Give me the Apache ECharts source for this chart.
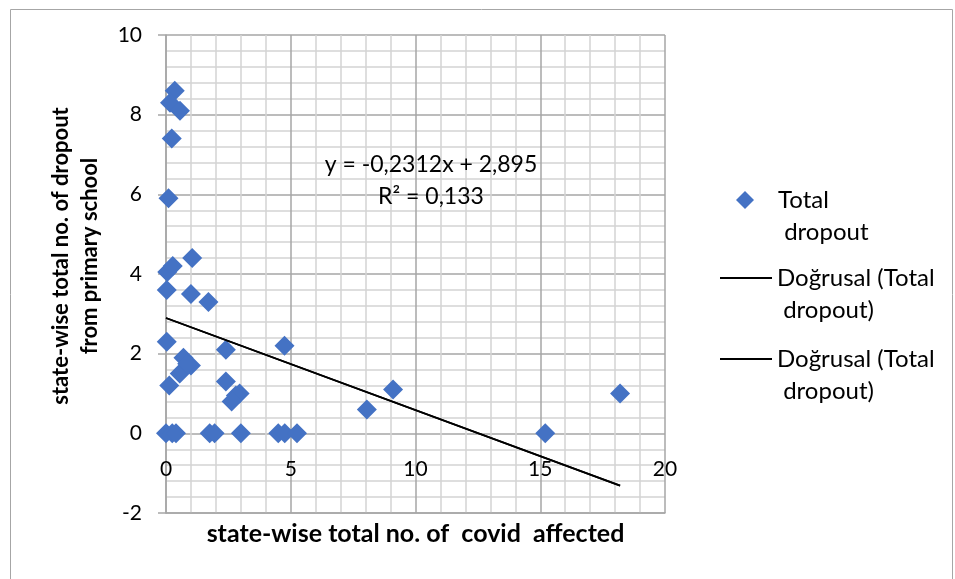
<!DOCTYPE html>
<html>
<head>
<meta charset="utf-8">
<script src="https://cdn.jsdelivr.net/npm/echarts@6/dist/echarts.min.js"></script>
<style>
html,body{margin:0;padding:0;background:#fff;}
#chart{width:955px;height:579px;}
</style>
</head>
<body>
<div id="chart"></div>
<script>
// Reference data
const covidAffected = [0.35, 0.16, 0.56, 0.23, 0.10, 1.05, 0.05, 0.27, 0.03, 1.00, 1.70, 0.03, 2.40, 4.75,
  0.70, 1.00, 0.55, 0.85, 0.13, 2.40, 2.95, 2.80, 2.63, 8.05, 9.10, 18.20, 15.20,
  0.00, 0.25, 0.40, 1.75, 1.95, 3.00, 4.50, 4.76, 5.25];
const totalDropout = [8.6, 8.3, 8.1, 7.4, 5.9, 4.4, 4.05, 4.2, 3.6, 3.5, 3.3, 2.3, 2.1, 2.2,
  1.9, 1.7, 1.5, 1.75, 1.2, 1.3, 1.0, 0.95, 0.8, 0.6, 1.1, 1.0, 0.0,
  0.0, 0.0, 0.0, 0.0, 0.0, 0.0, 0.0, 0.0, 0.0];
const trendSlope = -0.2312;
const trendIntercept = 2.895;
const trendLabel = ['y = -0,2312x + 2,895', 'R² = 0,133'];
const xTicks = [0, 5, 10, 15, 20];
const yTicks = [-2, 0, 2, 4, 6, 8, 10];
const seriesNames = ['Total dropout', 'Doğrusal (Total dropout)', 'Doğrusal (Total dropout) '];
const legendTexts = ['Total\n dropout', 'Doğrusal (Total\n dropout)', 'Doğrusal (Total\n dropout)'];
const xTitle = 'state-wise total no. of  covid  affected';
const yTitle = 'state-wise total no. of dropout\nfrom primary school';

const points = covidAffected.map((x, i) => [x, totalDropout[i]]);
const xMin = Math.min(...covidAffected), xMax = Math.max(...covidAffected);
const trendPoints = [xMin, xMax].map(x => [x, trendSlope * x + trendIntercept]);

const FONT = 'Lato, "Liberation Sans", sans-serif';
const chart = echarts.init(document.getElementById('chart'), null, {renderer: 'canvas'});

function legendFor(i, left, top, w, h, padLeft, icon) {
  return {
    data: [{name: seriesNames[i], icon: icon}],
    left: left, top: top, orient: 'vertical',
    itemWidth: w, itemHeight: h, itemGap: 0, padding: 0,
    selectedMode: false,
    // leading blank line keeps the icon level with the first text line
    formatter: () => ' \n' + legendTexts[i],
    itemStyle: {borderWidth: 0, opacity: 1},
    textStyle: {fontFamily: FONT, fontSize: 24, color: '#000', lineHeight: 32, padding: [0, 0, 0, padLeft]}
  };
}

const option = {
  animation: false,
  backgroundColor: '#fff',
  grid: {left: 166, right: 290, top: 35, bottom: 66, containLabel: false, outerBoundsMode: 'none'},
  legend: [
    legendFor(0, 736, 152, 18, 18, 19, 'diamond'),
    legendFor(1, 720, 230, 52, 2, 0, 'rect'),
    legendFor(2, 720, 311, 52, 2, 0, 'rect')
  ],
  xAxis: {
    type: 'value', min: xTicks[0], max: xTicks[xTicks.length - 1], interval: 5,
    axisLine: {show: true, onZero: false, lineStyle: {color: '#a6a6a6', width: 1.5}},
    axisTick: {show: false},
    axisLabel: {inside: true, margin: 33, fontFamily: FONT, fontSize: 21, color: '#000'},
    splitLine: {show: true, lineStyle: {color: '#a6a6a6', width: 1.5}},
    minorTick: {show: false, splitNumber: 5},
    minorSplitLine: {show: true, lineStyle: {color: '#d4d4d4', width: 1.5}},
    name: xTitle, nameLocation: 'middle', nameGap: 8,
    nameTextStyle: {fontFamily: FONT, fontSize: 25, fontWeight: 'bold', color: '#000'}
  },
  yAxis: {
    type: 'value', min: yTicks[0], max: yTicks[yTicks.length - 1], interval: 2,
    axisLine: {show: true, lineStyle: {color: '#a6a6a6', width: 1.5}},
    axisTick: {show: true, inside: false, length: 8, lineStyle: {color: '#a6a6a6', width: 1.5}},
    axisLabel: {margin: 24, fontFamily: FONT, fontSize: 21, color: '#000'},
    splitLine: {show: true, lineStyle: {color: '#a6a6a6', width: 1.5}},
    minorTick: {show: false, splitNumber: 5},
    minorSplitLine: {show: true, lineStyle: {color: '#d4d4d4', width: 1.5}}
  },
  series: [
    {
      name: seriesNames[0], type: 'scatter', data: points,
      symbol: 'diamond', symbolSize: 20,
      itemStyle: {color: '#4472C4', opacity: 1}, z: 3
    },
    {
      name: seriesNames[1], type: 'line', data: trendPoints, showSymbol: false, symbol: 'none',
      lineStyle: {color: '#000', width: 1.8}, itemStyle: {color: '#000'}, z: 4
    },
    {
      name: seriesNames[2], type: 'line', data: trendPoints, showSymbol: false, symbol: 'none',
      lineStyle: {color: '#000', width: 1.8}, itemStyle: {color: '#000'}, z: 4
    }
  ],
  graphic: [
    {type: 'rect', left: 8, top: 7, z: -10, silent: true,
     shape: {width: 942, height: 570}, style: {fill: 'none', stroke: '#a6a6a6', lineWidth: 1}},
    {type: 'text', x: 431, y: 165, z: 10,
     style: {text: trendLabel[0], font: '23px ' + FONT, fill: '#000', align: 'center', verticalAlign: 'middle'}},
    {type: 'text', x: 431, y: 197, z: 10,
     style: {text: trendLabel[1], font: '23px ' + FONT, fill: '#000', align: 'center', verticalAlign: 'middle'}},
    {type: 'text', x: 75, y: 256, rotation: Math.PI / 2, z: 10,
     style: {text: yTitle, font: 'bold 22px ' + FONT, fill: '#000', align: 'center', verticalAlign: 'middle', lineHeight: 29}}
  ]
};
chart.setOption(option);
</script>
</body>
</html>
